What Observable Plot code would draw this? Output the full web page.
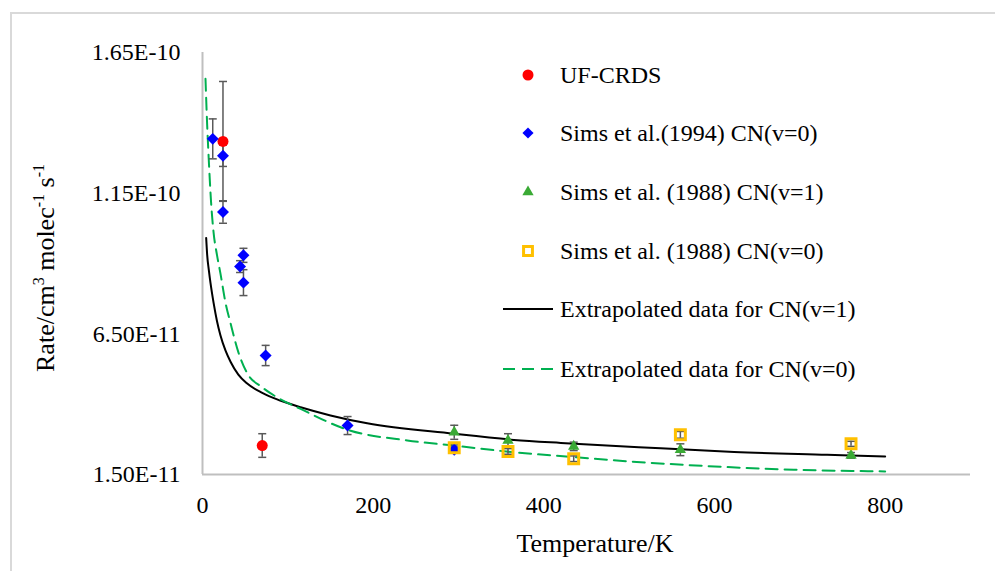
<!DOCTYPE html>
<html>
<head>
<meta charset="utf-8">
<script src="https://cdn.jsdelivr.net/npm/d3@7"></script>
<script src="https://cdn.jsdelivr.net/npm/@observablehq/plot@0.6"></script>
<style>
  body { margin: 0; background: #fff; }
  #chart { width: 995px; height: 571px; }
  #chart svg text { font-family: 'Liberation Serif', 'Times New Roman', serif; }
</style>
</head>
<body>
<div id="chart"></div>
<script>
// ---- Data ----
const xTicks = [0, 200, 400, 600, 800];
const yTicks = [1.5e-11, 6.5e-11, 1.15e-10, 1.65e-10];

// UF-CRDS
const ufT   = [24, 70];
const ufK   = [1.334e-10, 2.53e-11];
const ufErr = [2.13e-11, 4.2e-12];

// Sims et al. (1994) CN(v=0)
const s94T   = [12, 24, 24, 48, 44, 48, 74, 170, 295];
const s94K   = [1.343e-10, 1.283e-10, 1.083e-10, 9.29e-11, 8.89e-11, 8.32e-11, 5.73e-11, 3.24e-11, 2.38e-11];
const s94Err = [7.1e-12, 3.8e-12, 4.0e-12, 2.5e-12, 2.1e-12, 4.6e-12, 3.6e-12, 3.2e-12, 1.0e-12];

// Sims et al. (1988) CN(v=1)
const s88v1T   = [295, 358, 435, 560, 760];
const s88v1K   = [3.0e-11, 2.71e-11, 2.5e-11, 2.38e-11, 2.18e-11];
const s88v1Err = [2.5e-12, 2.4e-12, 1.5e-12, 2.1e-12, 1.0e-12];

// Sims et al. (1988) CN(v=0)
const s88v0T   = [295, 358, 435, 560, 760];
const s88v0K   = [2.45e-11, 2.32e-11, 2.06e-11, 2.91e-11, 2.59e-11];
const s88v0Err = [1.0e-12, 1.0e-12, 1.0e-12, 1.2e-12, 0.9e-12];

// Extrapolated data for CN(v=1)
const fitV1T = [4.3, 5.5, 7.5, 9.4, 13, 17, 21, 27, 33, 42, 52, 70, 91, 115, 150, 193, 294, 365, 420, 537, 623, 732, 800];
const fitV1K = [9.91e-11, 9.3e-11, 8.75e-11, 8.3e-11, 7.6e-11, 6.95e-11, 6.45e-11, 5.9e-11, 5.5e-11, 5.05e-11, 4.74e-11, 4.4e-11, 4.13e-11, 3.89e-11, 3.6e-11, 3.32e-11, 2.95e-11, 2.73e-11, 2.62e-11, 2.43e-11, 2.3e-11, 2.2e-11, 2.14e-11];

// Extrapolated data for CN(v=0)
const fitV0T = [3.5, 5.5, 7.4, 10, 13, 17, 21, 27, 33, 42, 52, 70, 87, 115, 170, 240, 294, 365, 435, 498, 591, 693, 800];
const fitV0K = [1.557e-10, 1.39e-10, 1.266e-10, 1.12e-10, 1.01e-10, 9.3e-11, 8.65e-11, 7.6e-11, 6.86e-11, 5.85e-11, 5.12e-11, 4.6e-11, 4.25e-11, 3.83e-11, 3.09e-11, 2.71e-11, 2.53e-11, 2.29e-11, 2.12e-11, 1.97e-11, 1.8e-11, 1.67e-11, 1.61e-11];

// ---- Build tables ----
const zip = (T, K, E) => T.map((t, i) => ({T: t, k: K[i], err: E ? E[i] : 0}));
const uf = zip(ufT, ufK, ufErr);
const s94 = zip(s94T, s94K, s94Err);
const s88v1 = zip(s88v1T, s88v1K, s88v1Err);
const s88v0 = zip(s88v0T, s88v0K, s88v0Err);
const fitV1 = zip(fitV1T, fitV1K);
const fitV0 = zip(fitV0T, fitV0K);
const allPts = [...uf, ...s94, ...s88v1, ...s88v0];

const capSymbol = {
  draw(ctx, size) {
    const r = Math.sqrt(size / Math.PI);
    ctx.moveTo(-r, 0);
    ctx.lineTo(r, 0);
  }
};

const FONT = "'Liberation Serif', 'Times New Roman', serif";
const errColor = "#595959";
const cRed = "#ff0000", cBlue = "#0000ff", cTri = "#3aaa35", cSq = "#ffc000", cDash = "#00b050";

const chart = Plot.plot({
  width: 995,
  height: 571,
  marginLeft: 202,
  marginRight: 25,
  marginTop: 52,
  marginBottom: 97,
  style: {fontFamily: FONT, fontSize: "24px", color: "#000", background: "#fff"},
  x: {domain: [0, 900]},
  y: {domain: [1.5e-11, 1.65e-10]},
  marks: [
    Plot.ruleY([1.5e-11], {stroke: "#bfbfbf", strokeWidth: 2}),
    Plot.ruleX([0], {stroke: "#bfbfbf", strokeWidth: 2}),
    Plot.axisX({ticks: xTicks, tickSize: 0, tickPadding: 21, label: null, tickFormat: d => String(d), fontSize: 24}),
    Plot.axisY({ticks: yTicks, tickSize: 0, tickPadding: 22, label: null, tickFormat: d => d.toExponential(2).toUpperCase(), fontSize: 24}),
    Plot.line(fitV1, {x: "T", y: "k", stroke: "#000", strokeWidth: 2, curve: "monotone-x"}),
    Plot.line(fitV0, {x: "T", y: "k", stroke: cDash, strokeWidth: 2, strokeDasharray: "12,7", curve: "monotone-x"}),
    Plot.ruleX(allPts, {x: "T", y1: d => d.k - d.err, y2: d => d.k + d.err, stroke: errColor, strokeWidth: 1.5}),
    Plot.dot(allPts, {x: "T", y: d => d.k + d.err, symbol: capSymbol, r: 4, stroke: errColor, strokeWidth: 1.5, fill: "none"}),
    Plot.dot(allPts, {x: "T", y: d => d.k - d.err, symbol: capSymbol, r: 4, stroke: errColor, strokeWidth: 1.5, fill: "none"}),
    Plot.dot(uf, {x: "T", y: "k", symbol: "circle", r: 5.5, fill: cRed}),
    Plot.dot(s94, {x: "T", y: "k", symbol: "diamond2", r: 5.4, fill: cBlue}),
    Plot.dot(s88v1, {x: "T", y: "k", symbol: "triangle", r: 4.2, fill: cTri}),
    Plot.dot(s88v0, {x: "T", y: "k", symbol: "square", r: 5.6, fill: "none", stroke: cSq, strokeWidth: 3})
  ]
});

document.getElementById("chart").appendChild(chart);

// ---- Decorations: outer frame, titles, legend ----
const svg = d3.select(chart);

svg.append("path")
  .attr("d", "M11,571V13H995")
  .attr("fill", "none")
  .attr("stroke", "#d9d9d9")
  .attr("stroke-width", 2);

// x title
svg.append("text")
  .attr("x", 595).attr("y", 543)
  .attr("text-anchor", "middle")
  .attr("dy", "0.35em")
  .attr("font-family", FONT)
  .attr("font-size", 26)
  .attr("fill", "#000")
  .text("Temperature/K");

// y title with superscripts
const yt = svg.append("text")
  .attr("transform", "translate(45,268) rotate(-90)")
  .attr("text-anchor", "middle")
  .attr("font-family", FONT)
  .attr("font-size", 26)
  .attr("fill", "#000")
  .attr("dy", "0.35em");
const parts = [["Rate/cm", false], ["3", true], [" molec", false], ["-1", true], [" s", false], ["-1", true]];
parts.forEach(([t, sup], i) => {
  const ts = yt.append("tspan").text(t);
  if (sup) ts.attr("font-size", 16).attr("dy", -10);
  else if (i > 0) ts.attr("dy", 10);
});

// legend
const legendItems = [
  {label: "UF-CRDS", kind: "sym", type: d3.symbolCircle, r: 5.5, fill: cRed},
  {label: "Sims et al.(1994) CN(v=0)", kind: "sym", type: d3.symbolDiamond2, r: 5.0, fill: cBlue},
  {label: "Sims et al. (1988) CN(v=1)", kind: "sym", type: d3.symbolTriangle, r: 4.2, fill: cTri},
  {label: "Sims et al. (1988) CN(v=0)", kind: "sym", type: d3.symbolSquare, r: 5.0, fill: "none", stroke: cSq},
  {label: "Extrapolated data for CN(v=1)", kind: "line", stroke: "#000"},
  {label: "Extrapolated data for CN(v=0)", kind: "line", stroke: cDash, dash: "12,7"}
];
const legendY = [75, 133, 192, 251, 309, 369];
const lg = svg.append("g").attr("font-family", FONT).attr("font-size", 24).attr("fill", "#000").attr("text-anchor", "start");
legendItems.forEach((it, i) => {
  const y = legendY[i];
  if (it.kind === "sym") {
    lg.append("path")
      .attr("transform", `translate(528,${y})`)
      .attr("d", d3.symbol().type(it.type).size(Math.PI * it.r * it.r)())
      .attr("fill", it.fill)
      .attr("stroke", it.stroke || "none")
      .attr("stroke-width", it.stroke ? 3 : 0);
  } else {
    lg.append("line")
      .attr("x1", 503).attr("x2", 553).attr("y1", y).attr("y2", y)
      .attr("stroke", it.stroke).attr("stroke-width", 2)
      .attr("stroke-dasharray", it.dash || null);
  }
  lg.append("text")
    .attr("x", 560).attr("y", y).attr("dy", "0.35em")
    .attr("font-family", FONT)
    .attr("text-anchor", "start")
    .text(it.label);
});
</script>
</body>
</html>
